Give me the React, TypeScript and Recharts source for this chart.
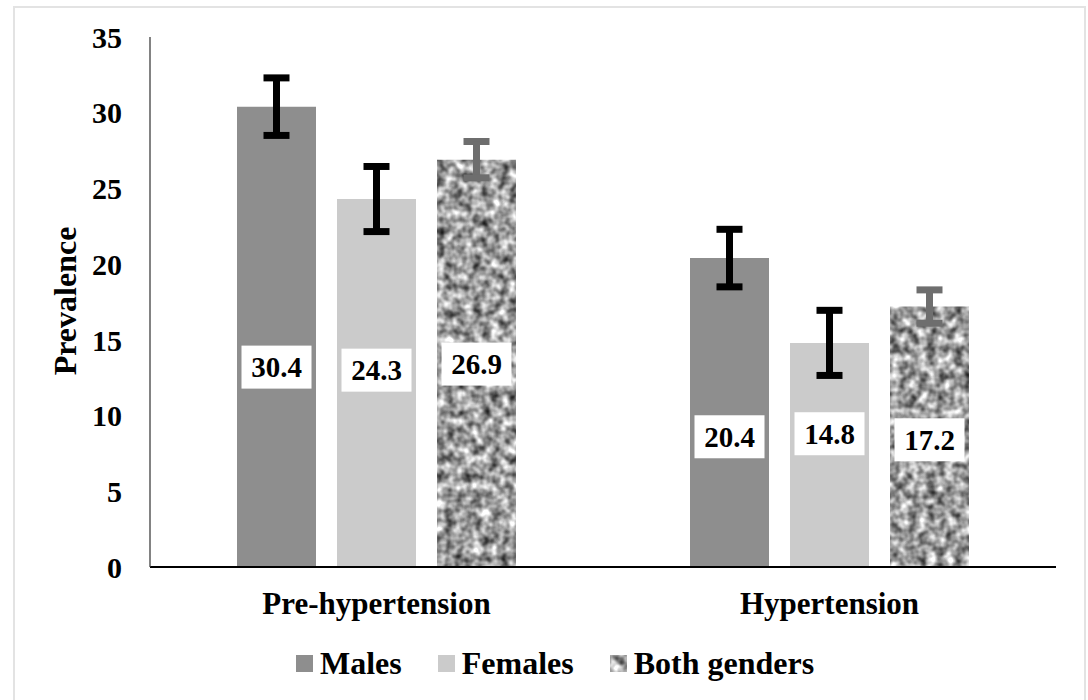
import { BarChart, Bar, XAxis, YAxis, ErrorBar, LabelList, Legend, Label } from "recharts";

const categories = ["Pre-hypertension", "Hypertension"];
const seriesNames = ["Males", "Females", "Both genders"];
const males = [30.4, 20.4];
const females = [24.3, 14.8];
const both = [26.9, 17.2];
const malesErr = [1.9, 1.9];
const femalesErr = [2.15, 2.15];
const bothErr = [1.2, 1.1];
// where the white value boxes sit (axis units)
const malesLabelAt = [13.2, 8.6];
const femalesLabelAt = [13.0, 8.8];
const bothLabelAt = [13.4, 8.4];
const yTicks = [0, 5, 10, 15, 20, 25, 30, 35];

const data = categories.map((cat, i) => ({
  cat,
  males: males[i],
  malesErr: malesErr[i],
  females: females[i],
  femalesErr: femalesErr[i],
  both: both[i],
  bothErr: bothErr[i],
}));

const FONT = '"Liberation Serif", "Times New Roman", serif';

const valueBox = (at: number[]) => (props: any) => {
  const vb = props.viewBox ?? props;
  const { x, y, width, height } = vb;
  const value = Number(props.value);
  const idx = props.index ?? 0;
  const cy = y + height - (at[idx] * height) / value;
  const cx = x + width / 2;
  return (
    <g>
      <rect x={cx - 35} y={cy - 21.5} width={70} height={43} fill="#fff" />
      <text
        x={cx}
        y={cy}
        textAnchor="middle"
        dominantBaseline="central"
        style={{ fontFamily: FONT, fontWeight: "bold", fontSize: 29 }}
        fill="#000"
      >
        {value.toFixed(1)}
      </text>
    </g>
  );
};

const renderLegend = (props: any) => {
  const items = [...(props.payload ?? [])].sort(
    (a: any, b: any) => seriesNames.indexOf(a.value) - seriesNames.indexOf(b.value)
  );
  return (
    <div style={{ display: "flex", alignItems: "center", height: 40, fontFamily: FONT, fontWeight: "bold", fontSize: 32 }}>
      {items.map((it: any) => (
        <div key={it.value} style={{ display: "flex", alignItems: "center", marginRight: 36 }}>
          <svg width={17} height={17} style={{ marginRight: 7 }}>
            <rect width={17} height={17} fill={it.color} />
          </svg>
          <span>{it.value}</span>
        </div>
      ))}
    </div>
  );
};

export default function App() {
  return (
    <div style={{ position: "fixed", left: 0, top: 0, width: 1088, height: 700, overflow: "hidden", background: "#fff" }}>
      <div
        style={{
          position: "absolute",
          left: 13,
          top: 6,
          width: 1069,
          height: 720,
          border: "2px solid #e3e3e3",
        }}
      />
      <div style={{ position: "absolute", left: 0, top: 0 }}>
        <BarChart
          width={1088}
          height={700}
          data={data}
          margin={{ top: 37, right: 32, left: 0, bottom: 33 }}
          barSize={79}
          barGap={21}
        >
          <defs>
            <filter
              id="grain"
              filterUnits="userSpaceOnUse"
              x="0"
              y="0"
              width="1088"
              height="700"
              colorInterpolationFilters="sRGB"
            >
              <feTurbulence type="fractalNoise" baseFrequency="0.11" numOctaves="2" seed="3" />
              <feColorMatrix
                type="matrix"
                values="1.3 0 0 0 -0.03  1.3 0 0 0 -0.03  1.3 0 0 0 -0.03  0 0 0 0 1"
              />
            </filter>
            <pattern id="bothTex" patternUnits="userSpaceOnUse" width="1088" height="700">
              <rect width="1088" height="700" fill="#999" filter="url(#grain)" />
            </pattern>
          </defs>
          <XAxis
            dataKey="cat"
            height={60}
            tickLine={false}
            tickSize={0}
            tickMargin={25}
            axisLine={{ stroke: "#000", strokeWidth: 2 }}
            tick={{ fill: "#000", fontSize: 31, fontWeight: "bold", fontFamily: FONT }}
          />
          <YAxis
            width={150}
            domain={[0, 35]}
            ticks={yTicks}
            tickLine={false}
            tickSize={0}
            tickMargin={28}
            axisLine={{ stroke: "#404040", strokeWidth: 1.3 }}
            tick={{ fill: "#000", fontSize: 30, fontWeight: "bold", fontFamily: FONT }}
          >
            <Label
              content={() => (
                <text
                  x={65}
                  y={301}
                  transform="rotate(-90 65 301)"
                  textAnchor="middle"
                  dominantBaseline="central"
                  style={{ fontFamily: FONT, fontWeight: "bold", fontSize: 32 }}
                  fill="#000"
                >
                  Prevalence
                </text>
              )}
            />
          </YAxis>
          <Legend
            verticalAlign="bottom"
            height={40}
            content={renderLegend}
            wrapperStyle={{ left: 296, top: 643, width: "auto" }}
          />
          <Bar dataKey="males" name="Males" fill="#8e8e8e" isAnimationActive={false}>
            <ErrorBar dataKey="malesErr" direction="y" width={13} strokeWidth={7} stroke="#000" />
            <LabelList dataKey="males" content={valueBox(malesLabelAt)} />
          </Bar>
          <Bar dataKey="females" name="Females" fill="#cbcbcb" isAnimationActive={false}>
            <ErrorBar dataKey="femalesErr" direction="y" width={13} strokeWidth={7} stroke="#000" />
            <LabelList dataKey="females" content={valueBox(femalesLabelAt)} />
          </Bar>
          <Bar dataKey="both" name="Both genders" fill="url(#bothTex)" isAnimationActive={false}>
            <ErrorBar dataKey="bothErr" direction="y" width={13} strokeWidth={7} stroke="#6e6e6e" />
            <LabelList dataKey="both" content={valueBox(bothLabelAt)} />
          </Bar>
        </BarChart>
      </div>
    </div>
  );
}
